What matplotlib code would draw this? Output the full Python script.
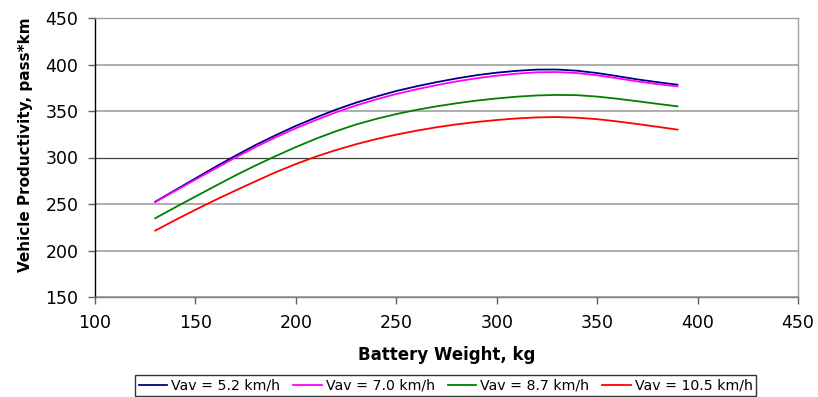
import matplotlib
matplotlib.use("Agg")
import matplotlib.pyplot as plt

plt.rcParams.update({
    "font.family": ["DejaVu Sans"],
    "font.size": 11,
})

# battery weight, kg
weight = [130, 140, 150, 160, 170, 180, 190, 200, 210, 220, 230, 240, 250, 260,
          270, 280, 290, 300, 310, 320, 330, 340, 350, 360, 370, 380, 390]

# vehicle productivity, pass*km
v52 = [252.5, 265, 277.5, 290, 302, 313.5, 324, 334, 343, 351.5, 359, 365.5, 371.5, 376.5,
       381, 385, 388.5, 391.2, 393.2, 394.5, 394.6, 393.3, 390.8, 387.5, 384, 381, 378.3]
v70 = [252, 264.2, 276.2, 288.2, 300, 311.3, 321.7, 331.5, 340.3, 348.6, 356, 362.5, 368.3, 373.3,
       377.8, 381.8, 385.2, 388, 390.2, 391.6, 391.9, 390.8, 388.4, 385.2, 381.8, 378.9, 376.5]
v87 = [234.7, 246.5, 258, 269.5, 280.8, 291.5, 301.6, 311.2, 320.2, 328.3, 335.5, 341.5, 346.7, 351.2,
       355, 358.3, 361.2, 363.5, 365.4, 366.7, 367.3, 367, 365.5, 363.2, 360.5, 357.7, 355]
v105 = [221.4, 232.8, 243.8, 254.4, 264.6, 274.5, 284.2, 293, 301, 308, 314.3, 319.8, 324.6, 328.8,
        332.5, 335.6, 338.2, 340.3, 342, 343.1, 343.5, 342.8, 341.2, 338.8, 336, 333, 330]

labels = ["Vav = 5.2 km/h", "Vav = 7.0 km/h", "Vav = 8.7 km/h", "Vav = 10.5 km/h"]
colors = ["#000080", "#ff00ff", "#008000", "#ff0000"]

fig = plt.figure(figsize=(8.18, 3.97), dpi=100)
ax = fig.add_axes([95 / 818, 100 / 397, 703 / 818, 279 / 397])

for ys, lab, c in zip([v52, v70, v87, v105], labels, colors):
    ax.plot(weight, ys, color=c, linewidth=1.3, label=lab)

ax.set_xlim(100, 450)
ax.set_ylim(150, 450)
ax.set_xticks(range(100, 451, 50))
ax.set_yticks(range(150, 451, 50))

# horizontal gridlines, the 300 one renders darker in the original
ax.yaxis.grid(True, color="#a0a0a0", linewidth=1.2)
ax.set_axisbelow(True)
for line, val in zip(ax.get_ygridlines(), range(150, 451, 50)):
    if val == 300:
        line.set_color("#404040")
        line.set_linewidth(0.9)

ax.spines["left"].set_color("black")
ax.spines["bottom"].set_color("#808080")
ax.spines["top"].set_color("#a0a0a0")
ax.spines["right"].set_color("#a0a0a0")
for s in ax.spines.values():
    s.set_linewidth(1.0)

ax.tick_params(axis="both", direction="out", length=5, width=1,
               color="#606060", labelsize=12.5, pad=7)

ax.set_xlabel("Battery Weight, kg", fontweight="bold", fontsize=12, labelpad=10)
ax.set_ylabel("Vehicle Productivity, pass*km", fontweight="bold", fontsize=11)
ax.yaxis.set_label_coords(-0.088, 0.546)

leg = fig.legend(loc="lower center", bbox_to_anchor=(0.545, -0.005), ncol=4,
                 fontsize=10.2, frameon=True, fancybox=False,
                 handlelength=2.0, handletextpad=0.3, columnspacing=0.9,
                 borderpad=0.25, borderaxespad=0.2)
leg.get_frame().set_edgecolor("black")
leg.get_frame().set_linewidth(1.0)

fig.savefig("out.png", dpi=100)
